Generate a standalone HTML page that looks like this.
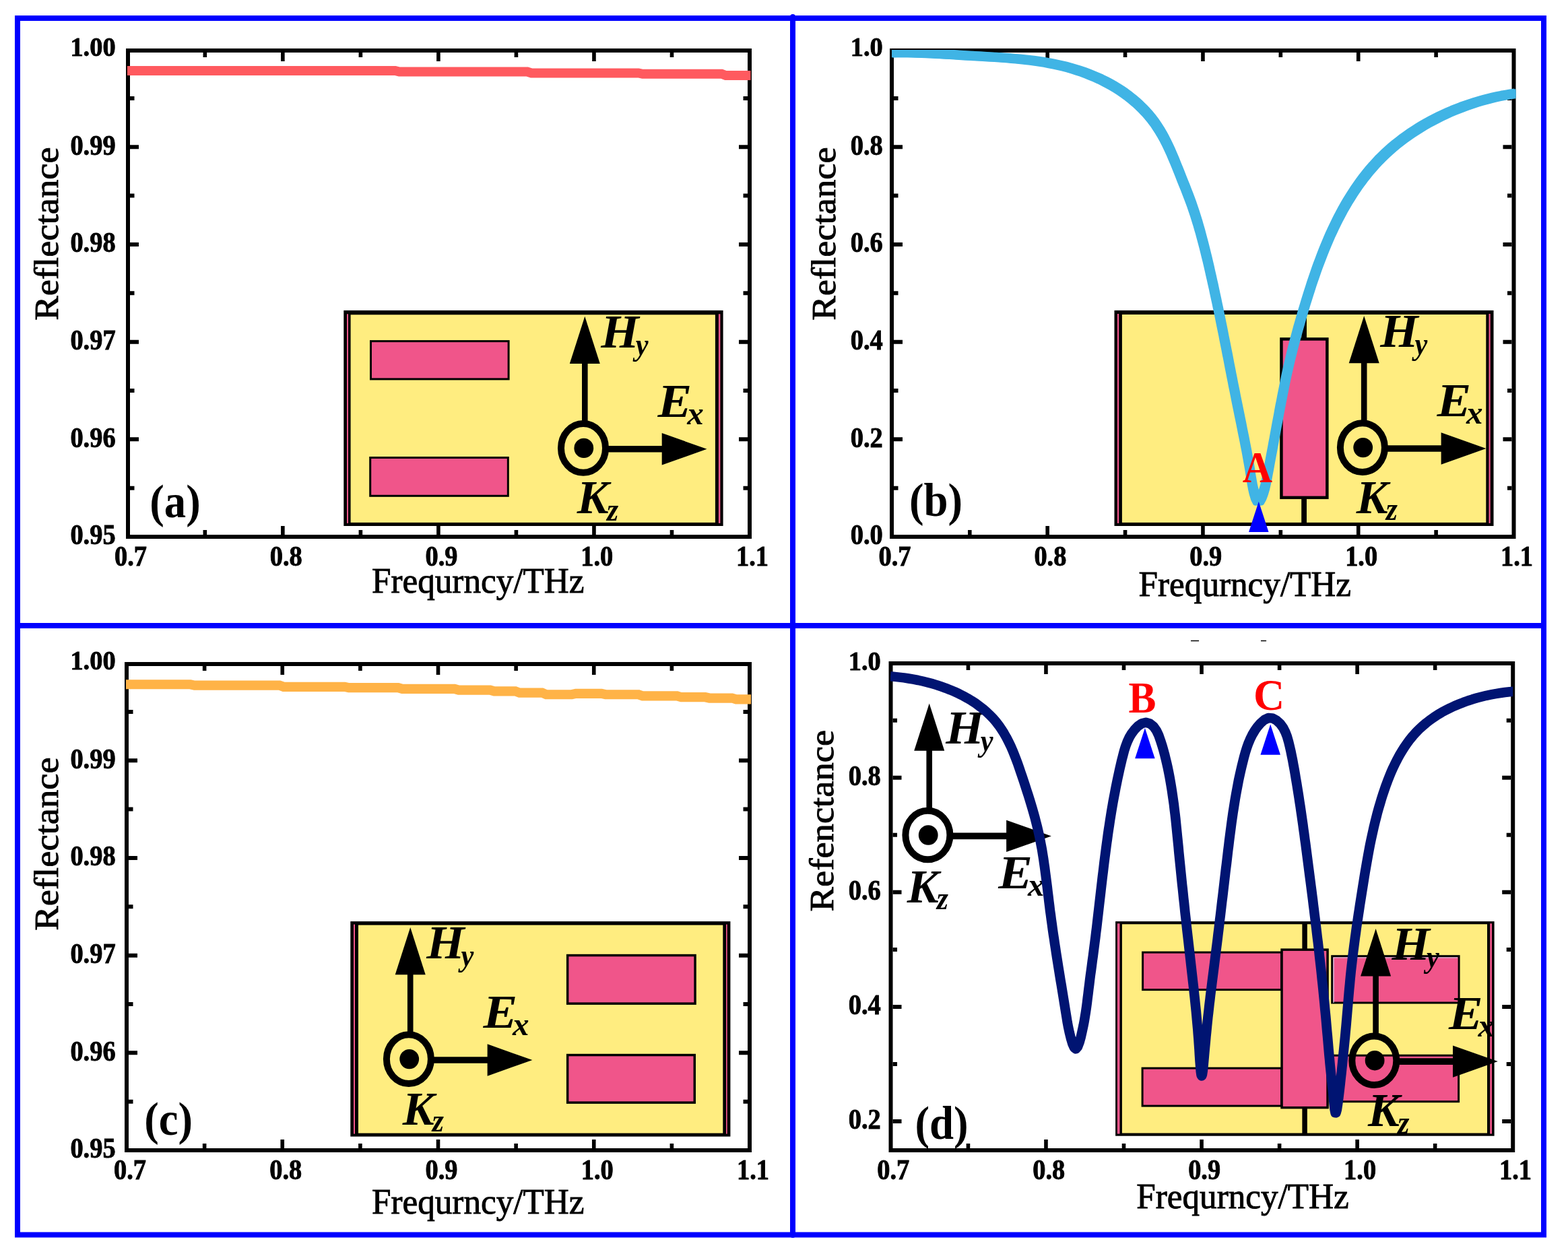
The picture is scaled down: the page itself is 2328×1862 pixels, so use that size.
<!DOCTYPE html>
<html lang="en"><head><meta charset="utf-8"><title>Reflectance spectra</title>
<style>
html,body{margin:0;padding:0;background:#fff;}
body{width:2328px;height:1862px;overflow:hidden;}
svg{display:block;}
text{font-family:"Liberation Serif","Times New Roman",Times,serif;}
</style></head><body>
<svg xmlns="http://www.w3.org/2000/svg" width="2328" height="1862" viewBox="0 0 2328 1862">
<rect width="2328" height="1862" fill="#fff"/>
<g font-weight="bold">
<g id="panel-a">
<g stroke="#000" stroke-width="5.6">
<path d="M304.33,794v-7M304.33,78v7"/>
<path d="M419.85,794v-13M419.85,78v13"/>
<path d="M535.38,794v-7M535.38,78v7"/>
<path d="M650.9,794v-13M650.9,78v13"/>
<path d="M766.42,794v-7M766.42,78v7"/>
<path d="M881.95,794v-13M881.95,78v13"/>
<path d="M997.48,794v-7M997.48,78v7"/>
</g>
<g stroke="#000" stroke-width="6">
<path d="M193,218.28h13M1110,218.28h-13"/>
<path d="M193,362.96h13M1110,362.96h-13"/>
<path d="M193,507.64h13M1110,507.64h-13"/>
<path d="M193,652.32h13M1110,652.32h-13"/>
<path d="M193,145.94h6.5M1110,145.94h-6.5"/>
<path d="M193,290.62h6.5M1110,290.62h-6.5"/>
<path d="M193,435.3h6.5M1110,435.3h-6.5"/>
<path d="M193,579.98h6.5M1110,579.98h-6.5"/>
<path d="M193,724.66h6.5M1110,724.66h-6.5"/>
</g>
<rect x="190" y="75" width="923" height="722" fill="none" stroke="#000" stroke-width="6"/>
<text transform="translate(194 840.3) scale(0.948 1.035)" font-size="40.5" text-anchor="middle" stroke="#000" stroke-width="0.9">0.7</text>
<text transform="translate(424.75 840.3) scale(0.948 1.035)" font-size="40.5" text-anchor="middle" stroke="#000" stroke-width="0.9">0.8</text>
<text transform="translate(655.5 840.3) scale(0.948 1.035)" font-size="40.5" text-anchor="middle" stroke="#000" stroke-width="0.9">0.9</text>
<text transform="translate(886.25 840.3) scale(0.948 1.035)" font-size="40.5" text-anchor="middle" stroke="#000" stroke-width="0.9">1.0</text>
<text transform="translate(1117 840.3) scale(0.948 1.035)" font-size="40.5" text-anchor="middle" stroke="#000" stroke-width="0.9">1.1</text>
<text transform="translate(171.6 83.46) scale(0.948 0.9626)" font-size="40.5" text-anchor="end" stroke="#000" stroke-width="0.9">1.00</text>
<text transform="translate(171.6 229.61) scale(0.948 1.035)" font-size="40.5" text-anchor="end" stroke="#000" stroke-width="0.9">0.99</text>
<text transform="translate(171.6 374.29) scale(0.948 1.035)" font-size="40.5" text-anchor="end" stroke="#000" stroke-width="0.9">0.98</text>
<text transform="translate(171.6 518.97) scale(0.948 1.035)" font-size="40.5" text-anchor="end" stroke="#000" stroke-width="0.9">0.97</text>
<text transform="translate(171.6 663.65) scale(0.948 1.035)" font-size="40.5" text-anchor="end" stroke="#000" stroke-width="0.9">0.96</text>
<text transform="translate(171.6 808.33) scale(0.948 1.035)" font-size="40.5" text-anchor="end" stroke="#000" stroke-width="0.9">0.95</text>
<text transform="translate(709.7 880) scale(0.994 1.03)" font-size="51.5" font-weight="normal" text-anchor="middle" stroke="#000" stroke-width="0.9">Frequrncy/THz</text>
<text transform="translate(85.6 347) rotate(-90) scale(1.064 1)" font-size="51.3" font-weight="normal" text-anchor="middle" stroke="#000" stroke-width="0.9">Reflectance</text>
<rect x="510.3" y="460.9" width="563.3" height="320.1" fill="#000"/>
<rect x="520.6" y="467.3" width="541.3" height="308.6" fill="#ffed80"/>
<rect x="515" y="466.3" width="2" height="310.6" fill="#f0558a"/>
<rect x="1066.9" y="466.3" width="2.5" height="310.6" fill="#f0558a"/>
<rect x="549" y="505.1" width="207.6" height="59.3" fill="#000"/>
<rect x="552" y="508.1" width="201.6" height="53.3" fill="#f0558a"/>
<rect x="548.2" y="678" width="207.6" height="59.8" fill="#000"/>
<rect x="551.2" y="681" width="201.6" height="53.8" fill="#f0558a"/>
<line x1="868.3" y1="628.1" x2="868.3" y2="538.8" stroke="#000" stroke-width="8.6"/>
<polygon points="868.3,469.8 845.8,540.1 890.8,540.1" fill="#000"/>
<line x1="900" y1="666.8" x2="984.5" y2="666.8" stroke="#000" stroke-width="9.6"/>
<polygon points="1049.5,666.8 982.7,643.1 982.7,690.5" fill="#000"/>
<ellipse cx="866" cy="665.4" rx="33" ry="36.3" fill="none" stroke="#000" stroke-width="10"/>
<ellipse cx="866.8" cy="665.4" rx="14.4" ry="14.700000000000001"/>
<text transform="translate(892.3 516.1) scale(1.05 1)" font-size="69" font-style="italic">H</text>
<text transform="translate(943.7 526.7) scale(0.9 1)" font-size="47" font-style="italic">y</text>
<text transform="translate(976.6 618.8) scale(1.1 1)" font-size="69" font-style="italic">E</text>
<text transform="translate(1020.2 629.8)" font-size="49" font-style="italic">x</text>
<text transform="translate(856.8 762.4) scale(1.02 1)" font-size="69" font-style="italic">K</text>
<text transform="translate(900.9 773.2) scale(0.9 1)" font-size="49" font-style="italic">z</text>
<path d="M189,105 L586.8,105 L592.8,106.5 L782.9,106.5 L788.9,108.5 L948,108.5 L954,109.8 L1071.5,109.8 L1077.5,112 L1114.5,112" fill="none" stroke="#ff5a5f" stroke-width="14"/>
<text transform="translate(222.3 768) scale(0.925 1)" font-size="70">(a)</text>
</g>
<g id="panel-b">
<g stroke="#000" stroke-width="5.6">
<path d="M1439.79,794v-7M1439.79,78v7"/>
<path d="M1555.18,794v-13M1555.18,78v13"/>
<path d="M1670.56,794v-7M1670.56,78v7"/>
<path d="M1785.95,794v-13M1785.95,78v13"/>
<path d="M1901.34,794v-7M1901.34,78v7"/>
<path d="M2016.72,794v-13M2016.72,78v13"/>
<path d="M2132.11,794v-7M2132.11,78v7"/>
</g>
<g stroke="#000" stroke-width="6">
<path d="M1327,218.28h13M2244.5,218.28h-13"/>
<path d="M1327,362.96h13M2244.5,362.96h-13"/>
<path d="M1327,507.64h13M2244.5,507.64h-13"/>
<path d="M1327,652.32h13M2244.5,652.32h-13"/>
<path d="M1327,145.94h6.5M2244.5,145.94h-6.5"/>
<path d="M1327,290.62h6.5M2244.5,290.62h-6.5"/>
<path d="M1327,435.3h6.5M2244.5,435.3h-6.5"/>
<path d="M1327,579.98h6.5M2244.5,579.98h-6.5"/>
<path d="M1327,724.66h6.5M2244.5,724.66h-6.5"/>
</g>
<rect x="1324" y="75" width="923.5" height="722" fill="none" stroke="#000" stroke-width="6"/>
<text transform="translate(1328.5 840.3) scale(0.948 1.035)" font-size="40.5" text-anchor="middle" stroke="#000" stroke-width="0.9">0.7</text>
<text transform="translate(1559.38 840.3) scale(0.948 1.035)" font-size="40.5" text-anchor="middle" stroke="#000" stroke-width="0.9">0.8</text>
<text transform="translate(1790.25 840.3) scale(0.948 1.035)" font-size="40.5" text-anchor="middle" stroke="#000" stroke-width="0.9">0.9</text>
<text transform="translate(2021.12 840.3) scale(0.948 1.035)" font-size="40.5" text-anchor="middle" stroke="#000" stroke-width="0.9">1.0</text>
<text transform="translate(2252 840.3) scale(0.948 1.035)" font-size="40.5" text-anchor="middle" stroke="#000" stroke-width="0.9">1.1</text>
<text transform="translate(1310.8 83.46) scale(0.948 0.9626)" font-size="40.5" text-anchor="end" stroke="#000" stroke-width="0.9">1.0</text>
<text transform="translate(1310.8 229.61) scale(0.948 1.035)" font-size="40.5" text-anchor="end" stroke="#000" stroke-width="0.9">0.8</text>
<text transform="translate(1310.8 374.29) scale(0.948 1.035)" font-size="40.5" text-anchor="end" stroke="#000" stroke-width="0.9">0.6</text>
<text transform="translate(1310.8 518.97) scale(0.948 1.035)" font-size="40.5" text-anchor="end" stroke="#000" stroke-width="0.9">0.4</text>
<text transform="translate(1310.8 663.65) scale(0.948 1.035)" font-size="40.5" text-anchor="end" stroke="#000" stroke-width="0.9">0.2</text>
<text transform="translate(1310.8 808.33) scale(0.948 1.035)" font-size="40.5" text-anchor="end" stroke="#000" stroke-width="0.9">0.0</text>
<text transform="translate(1848.3 885) scale(0.994 1.03)" font-size="51.5" font-weight="normal" text-anchor="middle" stroke="#000" stroke-width="0.9">Frequrncy/THz</text>
<text transform="translate(1239.6 347) rotate(-90) scale(1.064 1)" font-size="51.3" font-weight="normal" text-anchor="middle" stroke="#000" stroke-width="0.9">Reflectance</text>
<rect x="1654.5" y="460.9" width="563" height="320.1" fill="#000"/>
<rect x="1665.9" y="467" width="540.4" height="308.9" fill="#ffed80"/>
<rect x="1658.9" y="466" width="2.3" height="310.9" fill="#f0558a"/>
<rect x="2210.5" y="466" width="2.2" height="310.9" fill="#f0558a"/>
<line x1="1936.1" y1="465" x2="1936.1" y2="503" stroke="#000" stroke-width="7.8"/>
<line x1="1936.1" y1="739" x2="1936.1" y2="777" stroke="#000" stroke-width="7.8"/>
<rect x="1900.2" y="501.2" width="72.4" height="239.9" fill="#000"/>
<rect x="1904.7" y="505.7" width="63.4" height="230.9" fill="#f0558a"/>
<line x1="2025.2" y1="627.3" x2="2025.2" y2="538" stroke="#000" stroke-width="8.6"/>
<polygon points="2025.2,469 2002.7,539.3 2047.7,539.3" fill="#000"/>
<line x1="2056.9" y1="666" x2="2141.4" y2="666" stroke="#000" stroke-width="9.6"/>
<polygon points="2206.4,666 2139.6,642.3 2139.6,689.7" fill="#000"/>
<ellipse cx="2022.9" cy="664.6" rx="33" ry="36.3" fill="none" stroke="#000" stroke-width="10"/>
<ellipse cx="2023.7" cy="664.6" rx="14.4" ry="14.700000000000001"/>
<text transform="translate(2049.2 515.3) scale(1.05 1)" font-size="69" font-style="italic">H</text>
<text transform="translate(2100.6 525.9) scale(0.9 1)" font-size="47" font-style="italic">y</text>
<text transform="translate(2133.5 618) scale(1.1 1)" font-size="69" font-style="italic">E</text>
<text transform="translate(2177.1 629)" font-size="49" font-style="italic">x</text>
<text transform="translate(2013.7 761.6) scale(1.02 1)" font-size="69" font-style="italic">K</text>
<text transform="translate(2057.8 772.4) scale(0.9 1)" font-size="49" font-style="italic">z</text>
<clipPath id="cb"><rect x="1324" y="74" width="926.5" height="726"/></clipPath>
<defs><path id="pb" d="M1322.0,78.5 L1329.1,78.3 L1336.1,78.3 L1343.2,78.3 L1350.2,78.3 L1357.2,78.5 L1364.2,78.7 L1371.2,78.9 L1378.2,79.2 L1385.2,79.5 L1392.2,79.9 L1399.1,80.3 L1406.1,80.7 L1413.1,81.1 L1420.1,81.6 L1427.1,82.0 L1434.0,82.4 L1441.0,82.8 L1448.1,83.2 L1455.1,83.6 L1462.1,84.0 L1469.2,84.4 L1476.2,84.8 L1483.2,85.3 L1490.3,85.8 L1497.3,86.3 L1504.3,86.9 L1511.3,87.5 L1518.3,88.2 L1525.3,89.0 L1532.3,89.8 L1539.3,90.8 L1546.2,91.8 L1553.1,92.9 L1560.0,94.2 L1566.9,95.6 L1573.8,97.1 L1580.6,98.7 L1587.4,100.5 L1594.1,102.5 L1600.8,104.6 L1607.5,106.8 L1614.1,109.3 L1620.7,111.9 L1627.2,114.6 L1633.6,117.5 L1639.9,120.6 L1646.1,123.9 L1652.2,127.3 L1658.2,130.9 L1664.1,134.7 L1669.9,138.7 L1675.5,142.8 L1680.9,147.1 L1686.2,151.6 L1691.4,156.3 L1696.3,161.1 L1701.1,166.1 L1705.7,171.3 L1710.1,176.7 L1714.3,182.3 L1718.2,188.1 L1722.0,194.0 L1725.6,200.1 L1729.0,206.3 L1732.2,212.7 L1735.3,219.1 L1738.3,225.6 L1741.1,232.2 L1743.9,238.8 L1746.6,245.5 L1749.3,252.1 L1751.9,258.7 L1754.5,265.3 L1757.1,271.8 L1759.7,278.2 L1762.2,284.7 L1764.7,291.1 L1767.1,297.6 L1769.5,304.1 L1771.7,310.6 L1773.9,317.2 L1776.0,323.9 L1778.1,330.6 L1780.0,337.3 L1782.0,344.0 L1783.8,350.8 L1785.6,357.6 L1787.4,364.4 L1789.1,371.2 L1790.8,378.1 L1792.5,384.9 L1794.1,391.8 L1795.7,398.6 L1797.2,405.5 L1798.8,412.4 L1800.3,419.2 L1801.9,426.1 L1803.3,433.0 L1804.8,439.9 L1806.3,446.7 L1807.7,453.6 L1809.2,460.5 L1810.6,467.4 L1812.0,474.3 L1813.4,481.2 L1814.8,488.0 L1816.2,494.9 L1817.5,501.8 L1818.9,508.7 L1820.3,515.6 L1821.6,522.5 L1823.0,529.3 L1824.3,536.2 L1825.6,543.1 L1827.0,550.0 L1828.3,556.8 L1829.7,563.7 L1831.0,570.6 L1832.4,577.4 L1833.8,584.3 L1835.1,591.1 L1836.5,598.0 L1837.9,604.8 L1839.3,611.7 L1840.7,618.5 L1842.1,625.4 L1843.5,632.2 L1844.8,639.1 L1846.2,645.9 L1847.6,652.8 L1848.9,659.7 L1850.3,666.6 L1851.6,673.5 L1852.8,680.5 L1854.1,687.5 L1855.3,694.5 L1856.4,701.6 L1857.5,708.7 L1858.7,715.9 L1860.0,723.2 L1861.8,730.8 L1864.1,738.4 L1866.9,743.8 L1870.0,743.6 L1873.2,738.0 L1876.0,730.4 L1878.2,722.9 L1879.9,715.5 L1881.4,708.3 L1882.7,701.1 L1884.1,694.1 L1885.3,687.1 L1886.6,680.1 L1887.9,673.2 L1889.2,666.4 L1890.4,659.6 L1891.7,652.8 L1892.9,646.0 L1894.2,639.2 L1895.4,632.4 L1896.7,625.6 L1898.0,618.8 L1899.2,611.9 L1900.5,605.0 L1901.9,598.1 L1903.2,591.1 L1904.6,584.1 L1906.0,577.1 L1907.4,570.1 L1908.8,563.1 L1910.3,556.1 L1911.8,549.2 L1913.4,542.4 L1915.0,535.5 L1916.6,528.7 L1918.3,522.0 L1920.0,515.2 L1921.7,508.5 L1923.5,501.9 L1925.3,495.2 L1927.1,488.5 L1929.0,481.9 L1930.9,475.2 L1932.8,468.5 L1934.8,461.9 L1936.8,455.2 L1938.8,448.5 L1940.9,441.8 L1943.0,435.1 L1945.2,428.3 L1947.3,421.6 L1949.6,414.9 L1951.9,408.2 L1954.2,401.5 L1956.6,394.8 L1959.1,388.2 L1961.6,381.6 L1964.2,374.9 L1966.8,368.4 L1969.5,361.8 L1972.3,355.3 L1975.1,348.8 L1978.1,342.4 L1981.1,336.0 L1984.2,329.7 L1987.3,323.4 L1990.6,317.2 L1993.9,311.0 L1997.4,304.9 L2000.9,298.9 L2004.6,293.0 L2008.3,287.1 L2012.1,281.3 L2016.1,275.5 L2020.1,269.9 L2024.3,264.3 L2028.6,258.9 L2032.9,253.5 L2037.5,248.3 L2042.1,243.1 L2046.8,238.0 L2051.7,233.1 L2056.7,228.3 L2061.9,223.5 L2067.1,218.9 L2072.5,214.4 L2078.0,210.1 L2083.6,205.8 L2089.3,201.7 L2095.1,197.7 L2101.0,193.8 L2107.0,190.0 L2113.1,186.3 L2119.2,182.8 L2125.5,179.4 L2131.8,176.1 L2138.1,172.9 L2144.6,169.8 L2151.0,166.9 L2157.6,164.1 L2164.2,161.5 L2170.8,158.9 L2177.5,156.5 L2184.2,154.2 L2190.9,152.0 L2197.6,150.0 L2204.4,148.1 L2211.2,146.3 L2218.0,144.7 L2224.8,143.2 L2231.6,141.8 L2238.4,140.6 L2245.2,139.5 L2252.0,138.5"/></defs>
<g clip-path="url(#cb)" fill="none" stroke="#40b4e5" stroke-width="7.6" stroke-linejoin="round"><use href="#pb" stroke-width="9"/>
<use href="#pb" x="3.2" y="3.2"/>
<use href="#pb" x="3.2" y="-3.2"/>
<use href="#pb" x="-3.2" y="3.2"/>
<use href="#pb" x="-3.2" y="-3.2"/>
</g>
<text transform="translate(1866.9 716.3) scale(0.93 1)" font-size="66" text-anchor="middle" fill="#ff0000">A</text>
<polygon points="1868.8,744.7 1854.05,790 1883.55,790" fill="#0000ff"/>
<text transform="translate(1349.9 766.1) scale(0.925 1)" font-size="70">(b)</text>
</g>
<g id="panel-c">
<g stroke="#000" stroke-width="5.6">
<path d="M303.62,1705v-7M303.62,989v7"/>
<path d="M419.25,1705v-13M419.25,989v13"/>
<path d="M534.88,1705v-7M534.88,989v7"/>
<path d="M650.5,1705v-13M650.5,989v13"/>
<path d="M766.12,1705v-7M766.12,989v7"/>
<path d="M881.75,1705v-13M881.75,989v13"/>
<path d="M997.38,1705v-7M997.38,989v7"/>
</g>
<g stroke="#000" stroke-width="6">
<path d="M191,1129.28h13M1110,1129.28h-13"/>
<path d="M191,1273.96h13M1110,1273.96h-13"/>
<path d="M191,1418.64h13M1110,1418.64h-13"/>
<path d="M191,1563.32h13M1110,1563.32h-13"/>
<path d="M191,1056.94h6.5M1110,1056.94h-6.5"/>
<path d="M191,1201.62h6.5M1110,1201.62h-6.5"/>
<path d="M191,1346.3h6.5M1110,1346.3h-6.5"/>
<path d="M191,1490.98h6.5M1110,1490.98h-6.5"/>
<path d="M191,1635.66h6.5M1110,1635.66h-6.5"/>
</g>
<rect x="188" y="986" width="925" height="722" fill="none" stroke="#000" stroke-width="6"/>
<text transform="translate(193 1751.2) scale(0.948 1.035)" font-size="40.5" text-anchor="middle" stroke="#000" stroke-width="0.9">0.7</text>
<text transform="translate(424.25 1751.2) scale(0.948 1.035)" font-size="40.5" text-anchor="middle" stroke="#000" stroke-width="0.9">0.8</text>
<text transform="translate(655.5 1751.2) scale(0.948 1.035)" font-size="40.5" text-anchor="middle" stroke="#000" stroke-width="0.9">0.9</text>
<text transform="translate(886.75 1751.2) scale(0.948 1.035)" font-size="40.5" text-anchor="middle" stroke="#000" stroke-width="0.9">1.0</text>
<text transform="translate(1118 1751.2) scale(0.948 1.035)" font-size="40.5" text-anchor="middle" stroke="#000" stroke-width="0.9">1.1</text>
<text transform="translate(171.6 994.46) scale(0.948 0.9626)" font-size="40.5" text-anchor="end" stroke="#000" stroke-width="0.9">1.00</text>
<text transform="translate(171.6 1140.61) scale(0.948 1.035)" font-size="40.5" text-anchor="end" stroke="#000" stroke-width="0.9">0.99</text>
<text transform="translate(171.6 1285.29) scale(0.948 1.035)" font-size="40.5" text-anchor="end" stroke="#000" stroke-width="0.9">0.98</text>
<text transform="translate(171.6 1429.97) scale(0.948 1.035)" font-size="40.5" text-anchor="end" stroke="#000" stroke-width="0.9">0.97</text>
<text transform="translate(171.6 1574.65) scale(0.948 1.035)" font-size="40.5" text-anchor="end" stroke="#000" stroke-width="0.9">0.96</text>
<text transform="translate(171.6 1719.33) scale(0.948 1.035)" font-size="40.5" text-anchor="end" stroke="#000" stroke-width="0.9">0.95</text>
<text transform="translate(709.7 1801.7) scale(0.994 1.03)" font-size="51.5" font-weight="normal" text-anchor="middle" stroke="#000" stroke-width="0.9">Frequrncy/THz</text>
<text transform="translate(85.6 1253) rotate(-90) scale(1.064 1)" font-size="51.3" font-weight="normal" text-anchor="middle" stroke="#000" stroke-width="0.9">Reflectance</text>
<rect x="520.3" y="1368.1" width="564.1" height="319.5" fill="#000"/>
<rect x="532" y="1373.6" width="541.3" height="309" fill="#ffed80"/>
<rect x="525" y="1372.6" width="2" height="311" fill="#f0558a"/>
<rect x="1078" y="1372.6" width="1.7" height="311" fill="#f0558a"/>
<rect x="840.9" y="1416.8" width="192.9" height="75.1" fill="#000"/>
<rect x="844.4" y="1420.3" width="185.9" height="68.1" fill="#f0558a"/>
<rect x="840.9" y="1564.8" width="192.1" height="74.1" fill="#000"/>
<rect x="844.4" y="1568.3" width="185.1" height="67.1" fill="#f0558a"/>
<line x1="609.2" y1="1535.3" x2="609.2" y2="1446" stroke="#000" stroke-width="8.6"/>
<polygon points="609.2,1377 586.7,1447.3 631.7,1447.3" fill="#000"/>
<line x1="640.9" y1="1574" x2="725.4" y2="1574" stroke="#000" stroke-width="9.6"/>
<polygon points="790.4,1574 723.6,1550.3 723.6,1597.7" fill="#000"/>
<ellipse cx="606.9" cy="1572.6" rx="33" ry="36.3" fill="none" stroke="#000" stroke-width="10"/>
<ellipse cx="607.7" cy="1572.6" rx="14.4" ry="14.700000000000001"/>
<text transform="translate(633.2 1423.3) scale(1.05 1)" font-size="69" font-style="italic">H</text>
<text transform="translate(684.6 1433.9) scale(0.9 1)" font-size="47" font-style="italic">y</text>
<text transform="translate(717.5 1526) scale(1.1 1)" font-size="69" font-style="italic">E</text>
<text transform="translate(761.1 1537)" font-size="49" font-style="italic">x</text>
<text transform="translate(597.7 1669.6) scale(1.02 1)" font-size="69" font-style="italic">K</text>
<text transform="translate(641.8 1680.4) scale(0.9 1)" font-size="49" font-style="italic">z</text>
<path d="M187,1016.27 L282.75,1016.27 L288.75,1017.59 L414.94,1017.59 L420.94,1019.79 L511.88,1019.79 L517.88,1021.11 L591.19,1021.11 L597.19,1022.88 L674.91,1022.88 L680.91,1024.64 L727.78,1024.64 L733.78,1026.4 L765.24,1026.4 L771.24,1028.6 L804.89,1028.6 L810.89,1031.25 L848.95,1031.25 L854.95,1029.93 L893.02,1029.93 L899.02,1031.25 L948.09,1031.25 L954.09,1033.45 L1005.38,1033.45 L1011.38,1035.21 L1047.24,1035.21 L1053.24,1036.53 L1086.89,1036.53 L1092.89,1038.3 L1115.01,1038.3" fill="none" stroke="#ffb347" stroke-width="14.2"/>
<text transform="translate(214.2 1685.3) scale(0.925 1)" font-size="70">(c)</text>
</g>
<g id="panel-d">
<g stroke="#000" stroke-width="5.6">
<path d="M1437.44,1705v-7M1437.44,988v7"/>
<path d="M1552.97,1705v-13M1552.97,988v13"/>
<path d="M1668.51,1705v-7M1668.51,988v7"/>
<path d="M1784.05,1705v-13M1784.05,988v13"/>
<path d="M1899.59,1705v-7M1899.59,988v7"/>
<path d="M2015.12,1705v-13M2015.12,988v13"/>
<path d="M2130.66,1705v-7M2130.66,988v7"/>
</g>
<g stroke="#000" stroke-width="6">
<path d="M1325.5,1154.77h13M2243.2,1154.77h-13"/>
<path d="M1325.5,1324.84h13M2243.2,1324.84h-13"/>
<path d="M1325.5,1494.91h13M2243.2,1494.91h-13"/>
<path d="M1325.5,1664.98h13M2243.2,1664.98h-13"/>
<path d="M1325.5,1069.74h6.5M2243.2,1069.74h-6.5"/>
<path d="M1325.5,1239.81h6.5M2243.2,1239.81h-6.5"/>
<path d="M1325.5,1409.88h6.5M2243.2,1409.88h-6.5"/>
<path d="M1325.5,1579.95h6.5M2243.2,1579.95h-6.5"/>
</g>
<rect x="1322.5" y="985" width="923.7" height="723" fill="none" stroke="#000" stroke-width="6"/>
<text transform="translate(1326.3 1751.2) scale(0.948 1.035)" font-size="40.5" text-anchor="middle" stroke="#000" stroke-width="0.9">0.7</text>
<text transform="translate(1557.22 1751.2) scale(0.948 1.035)" font-size="40.5" text-anchor="middle" stroke="#000" stroke-width="0.9">0.8</text>
<text transform="translate(1788.15 1751.2) scale(0.948 1.035)" font-size="40.5" text-anchor="middle" stroke="#000" stroke-width="0.9">0.9</text>
<text transform="translate(2019.07 1751.2) scale(0.948 1.035)" font-size="40.5" text-anchor="middle" stroke="#000" stroke-width="0.9">1.0</text>
<text transform="translate(2250 1751.2) scale(0.948 1.035)" font-size="40.5" text-anchor="middle" stroke="#000" stroke-width="0.9">1.1</text>
<text transform="translate(1307.8 994.56) scale(0.948 0.9626)" font-size="40.5" text-anchor="end" stroke="#000" stroke-width="0.9">1.0</text>
<text transform="translate(1307.8 1166.1) scale(0.948 1.035)" font-size="40.5" text-anchor="end" stroke="#000" stroke-width="0.9">0.8</text>
<text transform="translate(1307.8 1336.17) scale(0.948 1.035)" font-size="40.5" text-anchor="end" stroke="#000" stroke-width="0.9">0.6</text>
<text transform="translate(1307.8 1506.24) scale(0.948 1.035)" font-size="40.5" text-anchor="end" stroke="#000" stroke-width="0.9">0.4</text>
<text transform="translate(1307.8 1676.31) scale(0.948 1.035)" font-size="40.5" text-anchor="end" stroke="#000" stroke-width="0.9">0.2</text>
<text transform="translate(1845 1794.4) scale(0.994 1.03)" font-size="51.5" font-weight="normal" text-anchor="middle" stroke="#000" stroke-width="0.9">Frequrncy/THz</text>
<text transform="translate(1236.8 1218.6) rotate(-90) scale(1.064 1)" font-size="51.3" font-weight="normal" text-anchor="middle" stroke="#000" stroke-width="0.9">Refenctance</text>
<rect x="1656.1" y="1368.1" width="562.5" height="318.6" fill="#000"/>
<rect x="1665.9" y="1372.3" width="542.1" height="310.2" fill="#ffed80"/>
<rect x="1658.9" y="1371.3" width="3.6" height="312.2" fill="#f0558a"/>
<rect x="2212.2" y="1371.3" width="2.8" height="312.2" fill="#f0558a"/>
<line x1="1937.1" y1="1371" x2="1937.1" y2="1410" stroke="#000" stroke-width="7.5"/>
<line x1="1937.1" y1="1645" x2="1937.1" y2="1684" stroke="#000" stroke-width="7.5"/>
<rect x="1695.1" y="1412.6" width="208.9" height="58.5" fill="#000"/>
<rect x="1698.1" y="1415.6" width="202.9" height="52.5" fill="#f0558a"/>
<rect x="1694.6" y="1584.6" width="209.4" height="59" fill="#000"/>
<rect x="1697.6" y="1587.6" width="203.4" height="53" fill="#f0558a"/>
<rect x="1976.2" y="1418.2" width="191.4" height="72.3" fill="#000"/>
<rect x="1979.2" y="1421.2" width="185.4" height="66.3" fill="#f0558a"/>
<path d="M1980,1489 V1422 H2164" fill="none" stroke="#c8d4ee" stroke-width="1.2"/>
<rect x="1976.2" y="1565.7" width="190.9" height="71.5" fill="#000"/>
<rect x="1979.2" y="1568.7" width="184.9" height="65.5" fill="#f0558a"/>
<rect x="1901.3" y="1408.4" width="71.5" height="238" fill="#000"/>
<rect x="1904.8" y="1411.9" width="64.5" height="231" fill="#f0558a"/>
<line x1="2042.6" y1="1537.4" x2="2042.6" y2="1448.1" stroke="#000" stroke-width="8.6"/>
<polygon points="2042.6,1379.1 2020.1,1449.4 2065.1,1449.4" fill="#000"/>
<line x1="2074.3" y1="1576.1" x2="2158.8" y2="1576.1" stroke="#000" stroke-width="9.6"/>
<polygon points="2223.8,1576.1 2157,1552.4 2157,1599.8" fill="#000"/>
<ellipse cx="2040.3" cy="1574.7" rx="33" ry="36.3" fill="none" stroke="#000" stroke-width="10"/>
<ellipse cx="2041.1" cy="1574.7" rx="14.4" ry="14.700000000000001"/>
<text transform="translate(2066.6 1425.4) scale(1.05 1)" font-size="69" font-style="italic">H</text>
<text transform="translate(2118 1436) scale(0.9 1)" font-size="47" font-style="italic">y</text>
<text transform="translate(2150.9 1528.1) scale(1.1 1)" font-size="69" font-style="italic">E</text>
<text transform="translate(2194.5 1539.1)" font-size="49" font-style="italic">x</text>
<text transform="translate(2031.1 1671.7) scale(1.02 1)" font-size="69" font-style="italic">K</text>
<text transform="translate(2075.2 1682.5) scale(0.9 1)" font-size="49" font-style="italic">z</text>
<line x1="1379.7" y1="1202.7" x2="1379.7" y2="1113.4" stroke="#000" stroke-width="8.6"/>
<polygon points="1379.7,1044.4 1357.2,1114.7 1402.2,1114.7" fill="#000"/>
<line x1="1411.4" y1="1241.4" x2="1495.9" y2="1241.4" stroke="#000" stroke-width="9.6"/>
<polygon points="1560.9,1241.4 1494.1,1217.7 1494.1,1265.1" fill="#000"/>
<ellipse cx="1377.4" cy="1240" rx="33" ry="36.3" fill="none" stroke="#000" stroke-width="10"/>
<ellipse cx="1378.2" cy="1240" rx="14.4" ry="14.700000000000001"/>
<text transform="translate(1404.3 1104.2) scale(1.05 1)" font-size="69" font-style="italic">H</text>
<text transform="translate(1455.7 1114.8) scale(0.9 1)" font-size="47" font-style="italic">y</text>
<text transform="translate(1482.3 1319.3) scale(1.1 1)" font-size="69" font-style="italic">E</text>
<text transform="translate(1525.9 1330.3)" font-size="49" font-style="italic">x</text>
<text transform="translate(1346.7 1339.6) scale(1.02 1)" font-size="69" font-style="italic">K</text>
<text transform="translate(1390.8 1350.4) scale(0.9 1)" font-size="49" font-style="italic">z</text>
<clipPath id="cd"><rect x="1322" y="985" width="924.2" height="723"/></clipPath>
<path d="M1322.0,1004.3 L1328.7,1004.9 L1335.4,1005.6 L1342.2,1006.4 L1349.1,1007.5 L1356.0,1008.7 L1363.0,1010.0 L1369.9,1011.5 L1376.8,1013.2 L1383.7,1015.1 L1390.6,1017.1 L1397.4,1019.4 L1404.2,1021.8 L1410.8,1024.4 L1417.4,1027.2 L1423.9,1030.2 L1430.2,1033.4 L1436.4,1036.8 L1442.4,1040.4 L1448.3,1044.2 L1453.9,1048.3 L1459.4,1052.5 L1464.6,1057.0 L1469.6,1061.7 L1474.3,1066.6 L1478.8,1071.8 L1483.0,1077.2 L1486.9,1082.8 L1490.6,1088.7 L1494.0,1094.7 L1497.2,1100.9 L1500.3,1107.2 L1503.1,1113.6 L1505.8,1120.2 L1508.4,1126.8 L1510.9,1133.5 L1513.2,1140.2 L1515.5,1147.0 L1517.8,1153.7 L1520.1,1160.5 L1522.3,1167.2 L1524.4,1173.9 L1526.6,1180.6 L1528.7,1187.2 L1530.7,1193.9 L1532.7,1200.6 L1534.6,1207.3 L1536.5,1214.0 L1538.2,1220.7 L1539.9,1227.4 L1541.5,1234.2 L1543.0,1240.9 L1544.4,1247.7 L1545.7,1254.6 L1547.0,1261.4 L1548.1,1268.3 L1549.2,1275.2 L1550.2,1282.2 L1551.2,1289.1 L1552.1,1296.1 L1553.0,1303.0 L1553.9,1310.0 L1554.8,1317.0 L1555.6,1324.0 L1556.5,1331.0 L1557.3,1338.0 L1558.2,1345.0 L1559.0,1352.0 L1560.0,1358.9 L1560.9,1365.9 L1561.9,1372.9 L1562.8,1379.8 L1563.8,1386.8 L1564.9,1393.7 L1565.9,1400.7 L1567.0,1407.6 L1568.0,1414.5 L1569.1,1421.5 L1570.2,1428.4 L1571.3,1435.3 L1572.4,1442.1 L1573.5,1449.0 L1574.6,1455.9 L1575.8,1462.7 L1576.9,1469.6 L1578.0,1476.4 L1579.1,1483.2 L1580.2,1490.0 L1581.3,1496.8 L1582.4,1503.6 L1583.5,1510.4 L1584.6,1517.4 L1586.0,1524.8 L1587.7,1532.7 L1589.8,1541.4 L1592.2,1549.5 L1594.8,1555.4 L1597.4,1557.4 L1600.0,1554.5 L1602.5,1548.0 L1604.8,1539.7 L1606.7,1531.1 L1608.4,1523.3 L1609.8,1516.1 L1610.9,1509.3 L1612.0,1502.6 L1613.0,1495.8 L1613.9,1489.0 L1614.7,1482.2 L1615.6,1475.3 L1616.4,1468.4 L1617.3,1461.5 L1618.1,1454.6 L1619.0,1447.6 L1620.0,1440.6 L1620.9,1433.7 L1621.8,1426.7 L1622.8,1419.7 L1623.7,1412.7 L1624.6,1405.7 L1625.5,1398.7 L1626.4,1391.8 L1627.2,1384.8 L1628.1,1377.8 L1628.9,1370.9 L1629.7,1363.9 L1630.5,1356.9 L1631.3,1350.0 L1632.1,1343.0 L1632.9,1336.1 L1633.7,1329.1 L1634.5,1322.2 L1635.3,1315.2 L1636.1,1308.3 L1636.9,1301.4 L1637.8,1294.4 L1638.6,1287.5 L1639.4,1280.6 L1640.3,1273.6 L1641.2,1266.7 L1642.1,1259.8 L1643.0,1252.9 L1644.0,1245.9 L1644.9,1239.0 L1645.9,1232.1 L1647.0,1225.2 L1648.0,1218.3 L1649.1,1211.4 L1650.2,1204.5 L1651.4,1197.5 L1652.6,1190.6 L1653.9,1183.7 L1655.2,1176.8 L1656.5,1169.9 L1657.9,1163.0 L1659.3,1156.1 L1660.8,1149.2 L1662.3,1142.3 L1663.9,1135.4 L1665.5,1128.5 L1667.3,1121.6 L1669.1,1114.7 L1671.2,1108.0 L1673.7,1101.4 L1676.6,1095.1 L1680.2,1089.1 L1684.4,1083.5 L1689.4,1078.3 L1695.2,1074.3 L1701.3,1072.8 L1707.4,1074.5 L1712.8,1078.9 L1717.0,1084.9 L1720.3,1091.9 L1722.9,1099.3 L1725.2,1106.4 L1727.2,1113.2 L1729.0,1119.8 L1730.6,1126.4 L1732.2,1133.0 L1733.7,1139.7 L1735.1,1146.4 L1736.4,1153.2 L1737.6,1160.1 L1738.8,1167.0 L1739.9,1173.9 L1740.9,1180.9 L1741.9,1187.8 L1742.9,1194.8 L1743.7,1201.9 L1744.6,1208.9 L1745.4,1215.9 L1746.1,1222.9 L1746.8,1229.9 L1747.5,1236.9 L1748.2,1243.9 L1748.9,1250.9 L1749.6,1257.8 L1750.2,1264.8 L1750.9,1271.8 L1751.6,1278.7 L1752.3,1285.6 L1753.0,1292.6 L1753.7,1299.5 L1754.4,1306.4 L1755.1,1313.4 L1755.9,1320.3 L1756.6,1327.2 L1757.3,1334.2 L1758.1,1341.1 L1758.8,1348.0 L1759.5,1355.0 L1760.3,1361.9 L1761.1,1368.9 L1761.8,1375.9 L1762.6,1382.8 L1763.4,1389.8 L1764.2,1396.8 L1765.0,1403.9 L1765.8,1410.9 L1766.6,1417.9 L1767.4,1425.0 L1768.2,1432.1 L1769.0,1439.1 L1769.8,1446.2 L1770.6,1453.2 L1771.4,1460.2 L1772.2,1467.2 L1772.9,1474.1 L1773.7,1481.1 L1774.4,1487.9 L1775.1,1494.7 L1775.8,1501.5 L1776.4,1508.2 L1777.0,1514.8 L1777.6,1521.4 L1778.2,1527.9 L1778.7,1534.7 L1779.3,1541.8 L1779.8,1549.4 L1780.4,1557.6 L1780.9,1566.6 L1781.5,1575.8 L1782.2,1584.4 L1782.8,1591.5 L1783.5,1596.2 L1784.2,1597.6 L1785.0,1595.3 L1785.8,1590.1 L1786.6,1582.7 L1787.4,1573.9 L1788.2,1564.7 L1789.0,1555.7 L1789.8,1547.2 L1790.5,1539.1 L1791.3,1531.5 L1792.0,1524.1 L1792.7,1517.1 L1793.4,1510.3 L1794.2,1503.7 L1794.9,1497.2 L1795.6,1490.8 L1796.4,1484.4 L1797.1,1478.0 L1797.9,1471.6 L1798.8,1465.0 L1799.6,1458.2 L1800.5,1451.3 L1801.4,1444.2 L1802.3,1437.1 L1803.2,1429.9 L1804.1,1422.7 L1805.0,1415.5 L1805.9,1408.4 L1806.8,1401.3 L1807.7,1394.2 L1808.5,1387.1 L1809.4,1380.1 L1810.2,1373.1 L1811.0,1366.1 L1811.9,1359.2 L1812.7,1352.2 L1813.5,1345.3 L1814.3,1338.4 L1815.2,1331.5 L1816.0,1324.6 L1816.8,1317.7 L1817.6,1310.8 L1818.4,1303.9 L1819.2,1297.0 L1820.0,1290.2 L1820.9,1283.3 L1821.7,1276.4 L1822.5,1269.5 L1823.3,1262.5 L1824.2,1255.6 L1825.0,1248.7 L1825.9,1241.7 L1826.8,1234.8 L1827.7,1227.8 L1828.6,1220.9 L1829.6,1213.9 L1830.6,1206.9 L1831.7,1200.0 L1832.8,1193.0 L1833.9,1186.1 L1835.1,1179.2 L1836.4,1172.2 L1837.7,1165.3 L1839.0,1158.4 L1840.5,1151.5 L1842.0,1144.7 L1843.6,1137.8 L1845.3,1131.0 L1847.0,1124.2 L1848.9,1117.4 L1851.0,1110.7 L1853.3,1104.1 L1856.0,1097.7 L1859.1,1091.3 L1862.7,1085.2 L1866.9,1079.2 L1871.8,1073.6 L1877.2,1068.9 L1883.1,1066.1 L1889.2,1066.4 L1895.2,1069.6 L1900.7,1074.6 L1905.1,1080.6 L1908.4,1087.1 L1911.0,1093.9 L1913.0,1100.9 L1914.7,1107.9 L1916.3,1114.8 L1917.7,1121.7 L1919.1,1128.5 L1920.3,1135.3 L1921.6,1142.2 L1922.8,1149.0 L1923.9,1155.8 L1925.1,1162.7 L1926.2,1169.6 L1927.3,1176.5 L1928.4,1183.4 L1929.4,1190.3 L1930.5,1197.2 L1931.5,1204.1 L1932.5,1211.0 L1933.5,1218.0 L1934.5,1224.9 L1935.4,1231.9 L1936.4,1238.8 L1937.3,1245.8 L1938.3,1252.8 L1939.2,1259.7 L1940.1,1266.7 L1941.0,1273.7 L1941.9,1280.6 L1942.8,1287.6 L1943.7,1294.5 L1944.6,1301.5 L1945.5,1308.4 L1946.4,1315.4 L1947.3,1322.3 L1948.2,1329.3 L1949.1,1336.2 L1949.9,1343.2 L1950.8,1350.1 L1951.6,1357.0 L1952.5,1364.0 L1953.3,1370.9 L1954.2,1377.9 L1955.0,1384.8 L1955.8,1391.8 L1956.7,1398.7 L1957.5,1405.7 L1958.3,1412.6 L1959.0,1419.6 L1959.8,1426.5 L1960.6,1433.5 L1961.4,1440.4 L1962.1,1447.4 L1962.8,1454.4 L1963.6,1461.3 L1964.3,1468.3 L1965.0,1475.3 L1965.7,1482.3 L1966.4,1489.2 L1967.0,1496.2 L1967.7,1503.2 L1968.4,1510.2 L1969.0,1517.2 L1969.6,1524.2 L1970.2,1531.2 L1970.9,1538.2 L1971.5,1545.2 L1972.1,1552.2 L1972.7,1559.1 L1973.3,1566.0 L1974.0,1573.0 L1974.6,1579.9 L1975.3,1586.7 L1976.0,1593.6 L1976.7,1600.4 L1977.5,1607.2 L1978.2,1614.2 L1979.0,1621.8 L1979.8,1630.1 L1980.6,1639.1 L1981.5,1647.2 L1982.5,1652.3 L1983.6,1652.4 L1984.9,1647.6 L1986.1,1639.7 L1987.3,1630.7 L1988.3,1622.4 L1989.2,1614.8 L1990.0,1607.7 L1990.7,1600.9 L1991.5,1594.1 L1992.2,1587.3 L1992.9,1580.4 L1993.6,1573.5 L1994.3,1566.6 L1995.0,1559.7 L1995.7,1552.7 L1996.4,1545.7 L1997.1,1538.7 L1997.7,1531.8 L1998.4,1524.8 L1999.0,1517.8 L1999.6,1510.8 L2000.2,1503.8 L2000.8,1496.8 L2001.4,1489.8 L2002.0,1482.8 L2002.6,1475.9 L2003.2,1468.9 L2003.9,1462.0 L2004.5,1455.0 L2005.2,1448.1 L2005.9,1441.1 L2006.7,1434.1 L2007.5,1427.2 L2008.3,1420.2 L2009.2,1413.2 L2010.1,1406.3 L2011.0,1399.3 L2011.9,1392.4 L2012.9,1385.4 L2013.8,1378.4 L2014.8,1371.5 L2015.9,1364.5 L2016.9,1357.6 L2018.0,1350.6 L2019.0,1343.7 L2020.1,1336.8 L2021.2,1329.9 L2022.3,1322.9 L2023.4,1316.0 L2024.5,1309.1 L2025.6,1302.2 L2026.7,1295.3 L2027.9,1288.5 L2029.1,1281.6 L2030.3,1274.7 L2031.5,1267.9 L2032.8,1261.0 L2034.1,1254.2 L2035.5,1247.4 L2037.0,1240.5 L2038.5,1233.7 L2040.0,1226.9 L2041.7,1220.1 L2043.4,1213.4 L2045.1,1206.6 L2047.0,1199.8 L2049.0,1193.1 L2051.0,1186.3 L2053.1,1179.6 L2055.4,1172.9 L2057.7,1166.2 L2060.2,1159.5 L2062.8,1152.9 L2065.5,1146.3 L2068.4,1139.8 L2071.5,1133.4 L2074.7,1127.1 L2078.0,1121.0 L2081.6,1115.0 L2085.3,1109.1 L2089.3,1103.4 L2093.4,1097.8 L2097.8,1092.5 L2102.4,1087.4 L2107.2,1082.5 L2112.3,1077.8 L2117.6,1073.4 L2123.1,1069.1 L2128.8,1065.1 L2134.6,1061.3 L2140.6,1057.7 L2146.8,1054.4 L2153.1,1051.2 L2159.5,1048.2 L2166.1,1045.5 L2172.7,1042.9 L2179.4,1040.5 L2186.2,1038.3 L2193.0,1036.3 L2199.9,1034.5 L2206.8,1032.8 L2213.7,1031.4 L2220.6,1030.1 L2227.5,1029.0 L2234.4,1028.0 L2241.2,1027.2 L2248.0,1026.6" fill="none" stroke="#001472" stroke-width="14.5" stroke-linejoin="round" clip-path="url(#cd)"/>
<text transform="translate(1695.9 1058) scale(0.93 1)" font-size="66" text-anchor="middle" fill="#ff0000">B</text>
<text transform="translate(1884.2 1054) scale(0.97 1)" font-size="66" text-anchor="middle" fill="#ff0000">C</text>
<polygon points="1699.9,1081 1685.15,1126.3 1714.65,1126.3" fill="#0000ff"/>
<polygon points="1886.2,1075.5 1871.45,1120.8 1900.95,1120.8" fill="#0000ff"/>
<text transform="translate(1358.4 1691.3) scale(0.925 1)" font-size="70">(d)</text>
<line x1="1768" y1="951.5" x2="1780.1" y2="951.5" stroke="#000" stroke-width="1.5"/>
<line x1="1872" y1="951.5" x2="1880.1" y2="951.5" stroke="#000" stroke-width="1.5"/>
</g>
<g id="frame">
<rect x="26" y="27" width="2266" height="1806.5" fill="none" stroke="#0000ff" stroke-width="8"/>
<line x1="1177" y1="25" x2="1177" y2="1834" stroke="#0000ff" stroke-width="8" stroke-linecap="round"/>
<line x1="22" y1="929" x2="2296" y2="929" stroke="#0000ff" stroke-width="8"/>
</g>
</g></svg></body></html>
